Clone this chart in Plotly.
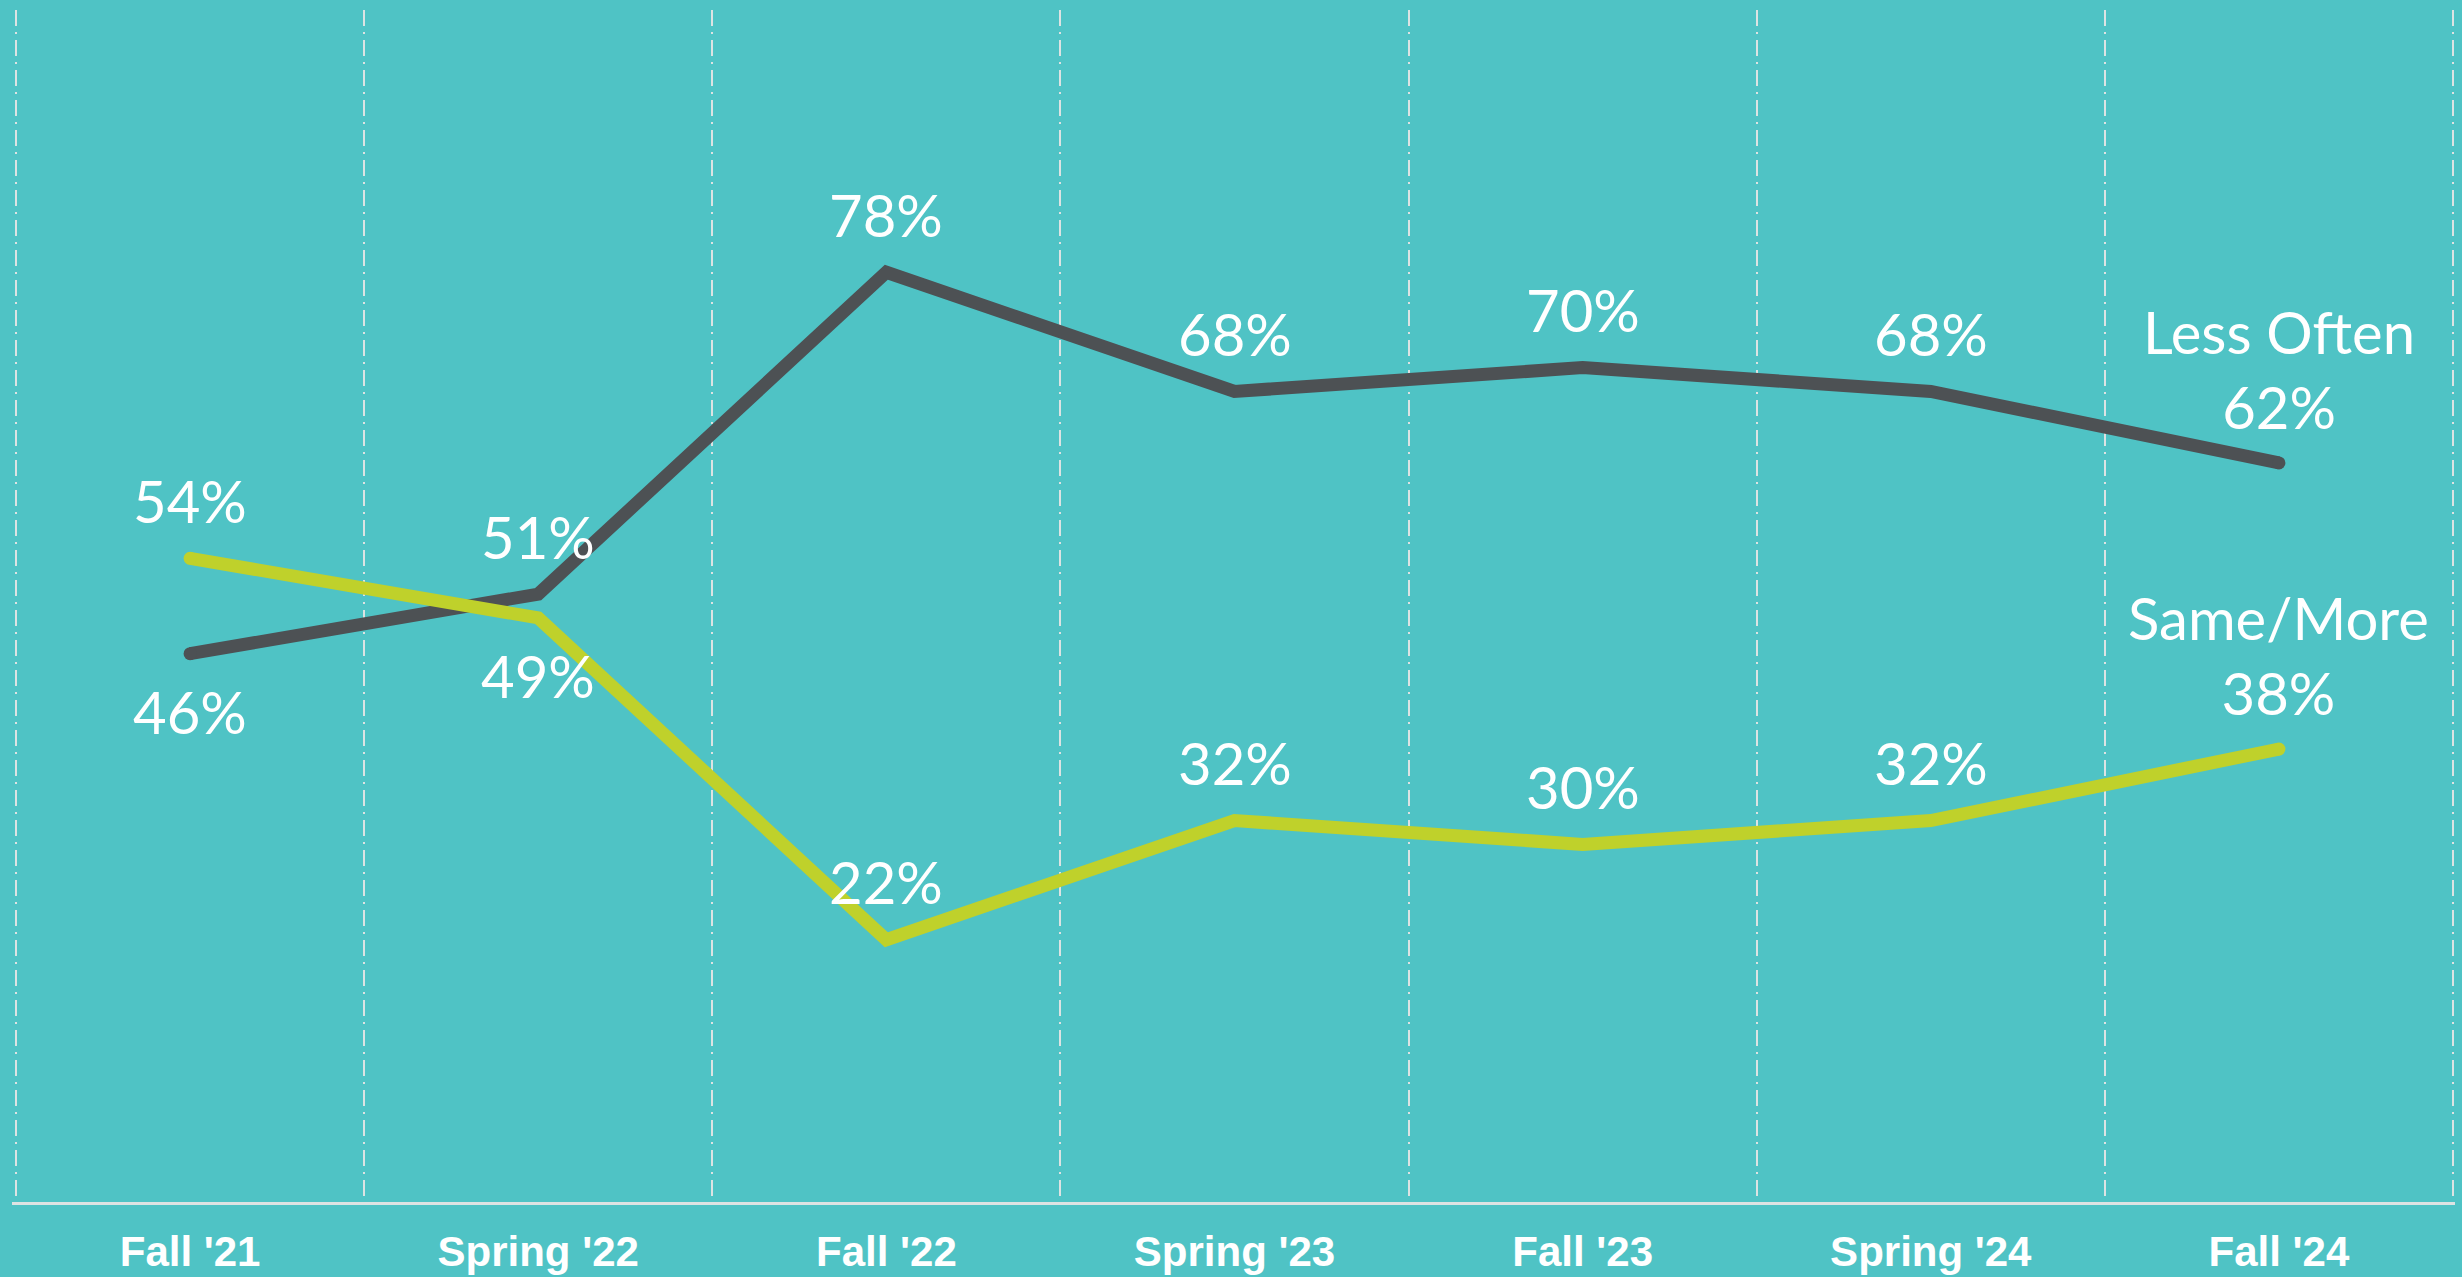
import plotly.graph_objects as go

categories = ["Fall '21", "Spring '22", "Fall '22", "Spring '23", "Fall '23", "Spring '24", "Fall '24"]
less_often = [46, 51, 78, 68, 70, 68, 62]
same_more = [54, 49, 22, 32, 30, 32, 38]
# label placement: +1 above the point, -1 below
less_pos = [-1, 1, 1, 1, 1, 1, 1]
same_pos = [1, -1, 1, 1, 1, 1, 1]
series_names = ["Less Often", "Same/More"]

BG = "#4fc3c5"
DARK = "#4d5154"
GREEN = "#bfd12b"
GRID = "#dde3e3"

fig = go.Figure()
for vals, color, name in [(less_often, DARK, series_names[0]), (same_more, GREEN, series_names[1])]:
    fig.add_trace(go.Scatter(x=categories, y=vals, mode="lines", name=name,
                             line=dict(color=color, width=13), showlegend=False, hoverinfo="skip"))
    fig.add_trace(go.Scatter(x=[categories[0], categories[-1]], y=[vals[0], vals[-1]], mode="markers",
                             marker=dict(color=color, size=13, line=dict(width=0)),
                             showlegend=False, hoverinfo="skip"))

LABEL_FONT = dict(family="Lato, Noto Sans, sans-serif", size=58, color="white")
for vals, pos, name in [(less_often, less_pos, series_names[0]), (same_more, same_pos, series_names[1])]:
    for i, (c, v, p) in enumerate(zip(categories, vals, pos)):
        if i == len(categories) - 1:
            fig.add_annotation(x=c, y=v, text=f"{name}<br>{v}%", showarrow=False,
                               yanchor="bottom", yshift=20, font=LABEL_FONT)
        else:
            fig.add_annotation(x=c, y=v, text=f"{v}%", showarrow=False,
                               yanchor="middle", yshift=58 * p, font=LABEL_FONT)

fig.update_layout(
    width=2462, height=1277,
    paper_bgcolor=BG, plot_bgcolor=BG,
    margin=dict(l=12, r=7, t=10, b=75, pad=0, autoexpand=False),
    xaxis=dict(type="category", tickson="boundaries", showgrid=True, gridcolor=GRID, gridwidth=2,
               griddash="16px,6px,2px,6px", showline=True, linecolor=GRID, linewidth=3,
               ticks="", ticklabelstandoff=11, automargin=False,
               tickfont=dict(family="Liberation Sans, Arial, sans-serif", size=42,
                             color="white", weight="bold"),
               range=[-0.5115, 6.5057], zeroline=False),
    yaxis=dict(range=[0, 100], showgrid=False, zeroline=False, showticklabels=False, showline=False,
               automargin=False),
)

fig.write_html("out.html", config={"displayModeBar": False},
               post_script="document.body.style.margin='0';document.body.style.padding='0';")
